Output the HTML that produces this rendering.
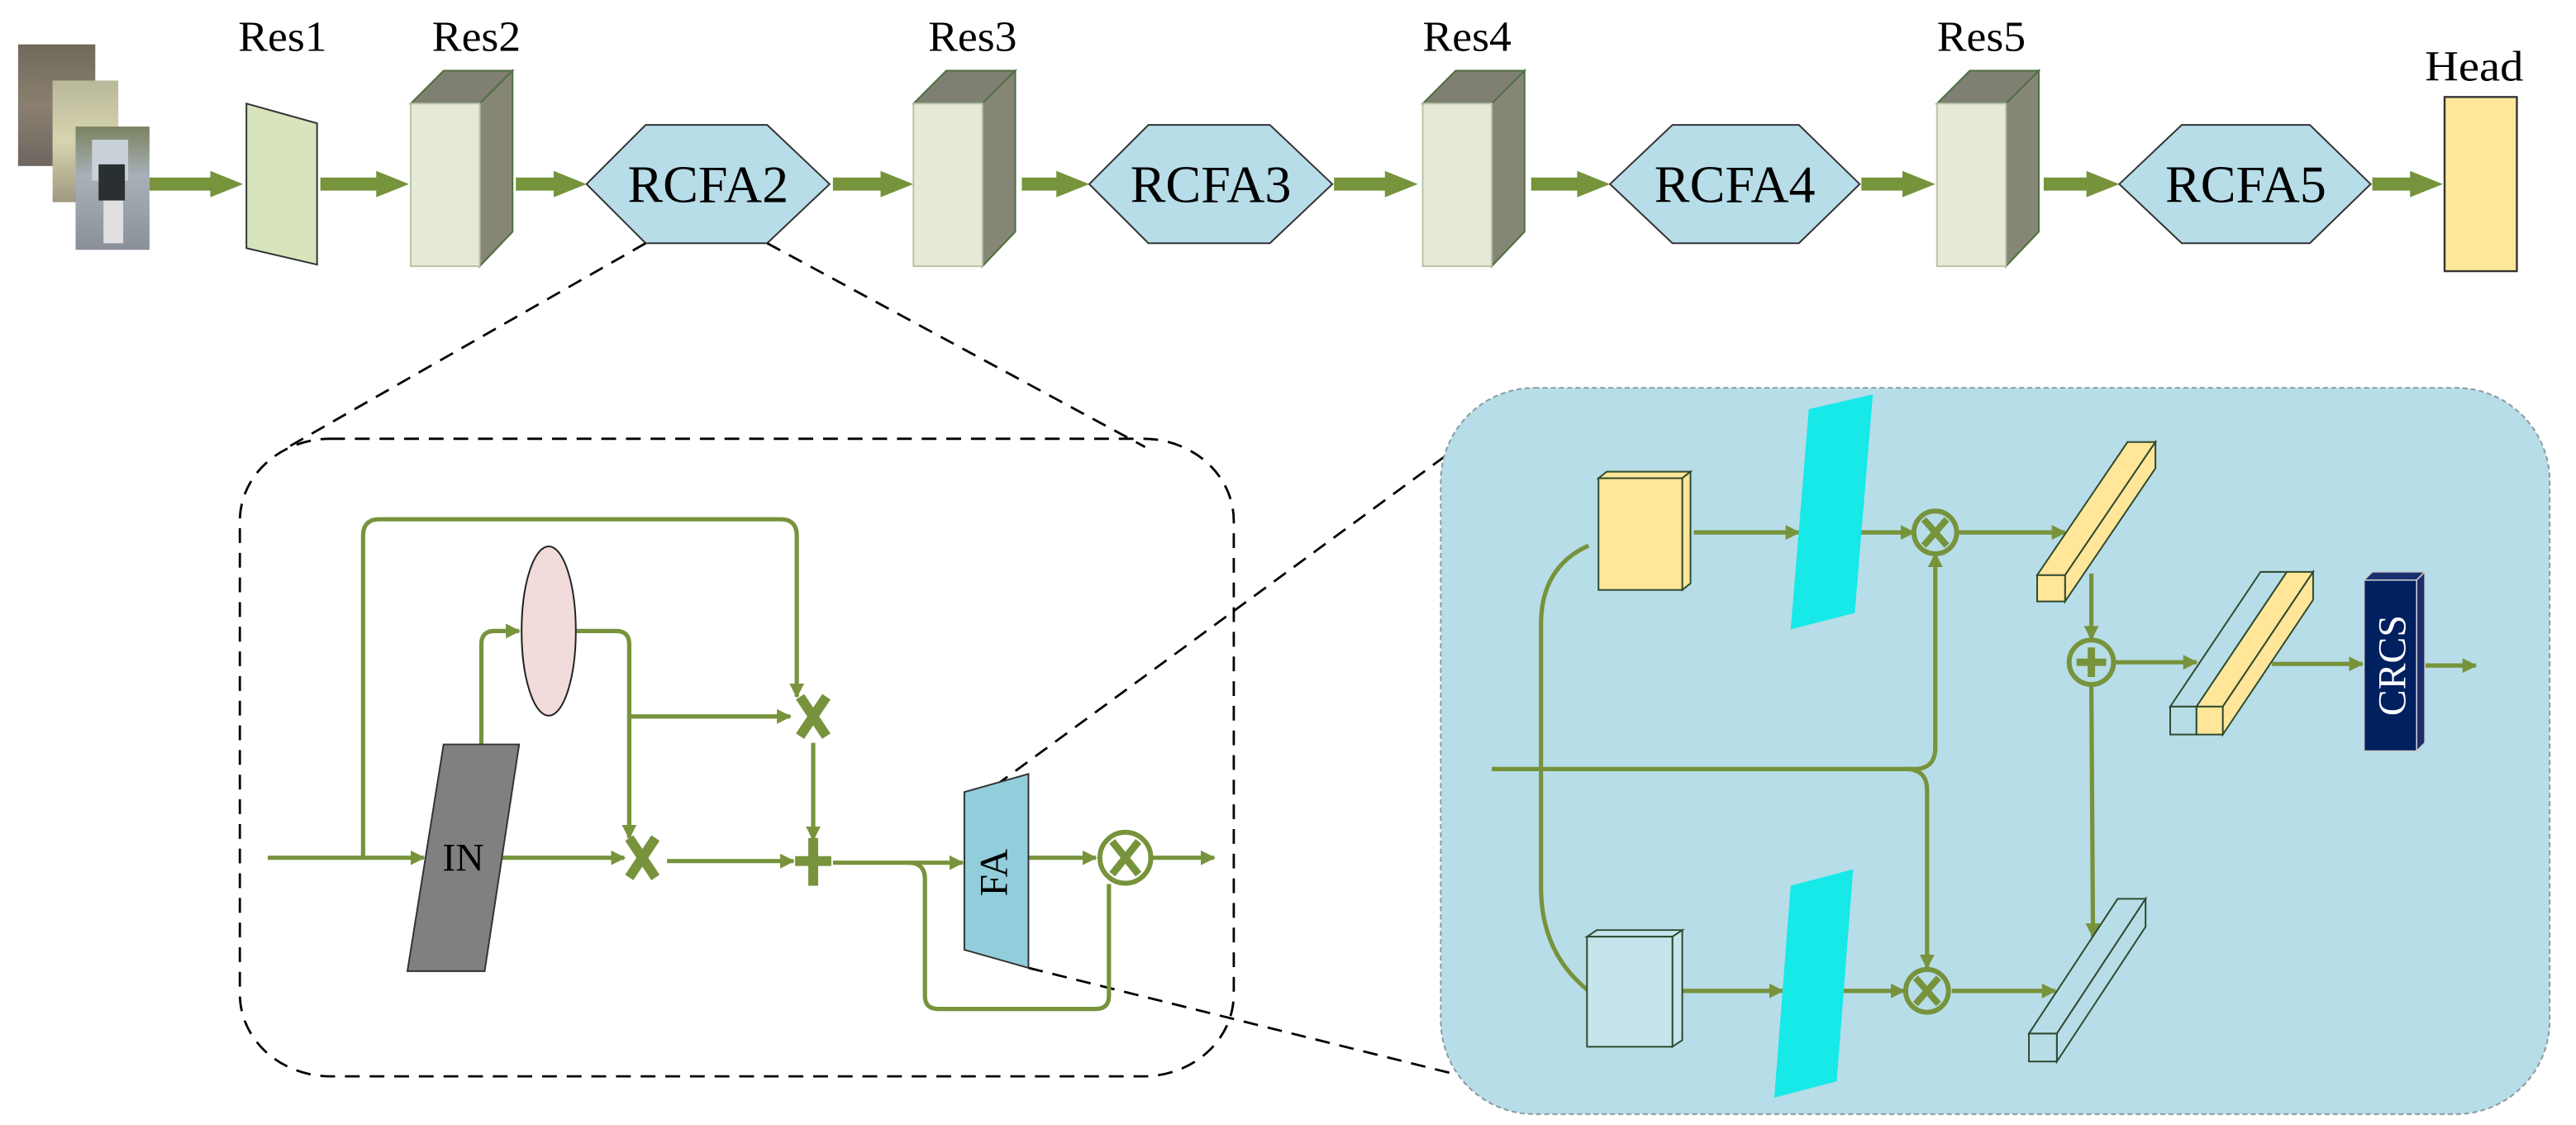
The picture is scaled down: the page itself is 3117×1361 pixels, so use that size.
<!DOCTYPE html>
<html><head><meta charset="utf-8"><style>
html,body{margin:0;padding:0;background:#fff;}
svg{display:block;}
svg text{font-family:"Liberation Serif","DejaVu Serif",serif;}
</style></head><body>
<svg width="3117" height="1361" viewBox="0 0 1568 684.6" xmlns="http://www.w3.org/2000/svg" font-family="Liberation Serif, serif">
<defs>
<marker id="a" viewBox="0 0 10 10" refX="9" refY="5" markerWidth="9" markerHeight="9" markerUnits="userSpaceOnUse" orient="auto"><path d="M0,0L10,5L0,10z" fill="#77933c"/></marker>
<linearGradient id="p1" x1="0" y1="0" x2="0" y2="1"><stop offset="0" stop-color="#6f6a5a"/><stop offset="0.5" stop-color="#8a7f70"/><stop offset="1" stop-color="#6e6660"/></linearGradient>
<linearGradient id="p2" x1="0" y1="0" x2="0" y2="1"><stop offset="0" stop-color="#b8b89a"/><stop offset="0.5" stop-color="#d8d4b0"/><stop offset="1" stop-color="#a09880"/></linearGradient>
<linearGradient id="p3" x1="0" y1="0" x2="0" y2="1"><stop offset="0" stop-color="#7a8260"/><stop offset="0.4" stop-color="#a8b0b8"/><stop offset="1" stop-color="#8a9098"/></linearGradient>
</defs>

<rect x="11" y="27" width="47" height="74" fill="url(#p1)"/>
<rect x="32" y="49" width="40" height="74" fill="url(#p2)"/>
<rect x="46" y="77" width="45" height="75" fill="url(#p3)"/>
<rect x="56" y="85" width="22" height="25" fill="#c8d0d8"/>
<rect x="60" y="100" width="16" height="22" fill="#2a3030"/>
<rect x="63" y="122" width="12" height="26" fill="#e0e0e0"/>

<g font-size="26" fill="#000" text-anchor="middle" font-family="Liberation Serif, serif">
<text x="172" y="31" textLength="54" lengthAdjust="spacingAndGlyphs">Res1</text>
<text x="290" y="31" textLength="54" lengthAdjust="spacingAndGlyphs">Res2</text>
<text x="592" y="31" textLength="54" lengthAdjust="spacingAndGlyphs">Res3</text>
<text x="893" y="31" textLength="54" lengthAdjust="spacingAndGlyphs">Res4</text>
<text x="1206" y="31" textLength="54" lengthAdjust="spacingAndGlyphs">Res5</text>
<text x="1506" y="49" textLength="60" lengthAdjust="spacingAndGlyphs">Head</text>
</g>

<g fill="#77933c">
<path d="M91,108H128V104L148,112L128,120V116H91z"/>
<path d="M195,108H229V104L249,112L229,120V116H195z"/>
<path d="M314,108H337V104L357,112L337,120V116H314z"/>
<path d="M507,108H536V104L556,112L536,120V116H507z"/>
<path d="M622,108H643V104L663,112L643,120V116H622z"/>
<path d="M812,108H843V104L863,112L843,120V116H812z"/>
<path d="M932,108H960V104L980,112L960,120V116H932z"/>
<path d="M1133,108H1158V104L1178,112L1158,120V116H1133z"/>
<path d="M1244,108H1270V104L1290,112L1270,120V116H1244z"/>
<path d="M1444,108H1467V104L1487,112L1467,120V116H1444z"/>
</g>

<polygon points="150,63 193,75 193,161 150,151" fill="#d7e4bd" stroke="#333" stroke-width="1"/>
<g stroke="#4f6f40" stroke-width="1">
<g id="rb">
<polygon points="250,63 270,43 312,43 292,63" fill="#7f7f72"/>
<polygon points="292,63 312,43 312,141 292,162" fill="#868676"/>
<rect x="250" y="63" width="42" height="99" fill="#e6e9d5" stroke="#b8c4a8"/>
</g>
<use href="#rb" x="306"/>
<use href="#rb" x="616"/>
<use href="#rb" x="929"/>
</g>

<g fill="#b7dde8" stroke="#333" stroke-width="1">
<polygon points="357,112 393,76 467,76 505,112 467,148 393,148"/>
<polygon points="663,112 699,76 773,76 811,112 773,148 699,148"/>
<polygon points="980,112 1018,76 1095,76 1132,112 1095,148 1018,148"/>
<polygon points="1290,112 1328,76 1406,76 1443,112 1406,148 1328,148"/>
</g>
<g font-size="32" text-anchor="middle" fill="#000" font-family="Liberation Serif, serif">
<text x="431" y="123" textLength="98" lengthAdjust="spacingAndGlyphs">RCFA2</text>
<text x="737" y="123" textLength="98" lengthAdjust="spacingAndGlyphs">RCFA3</text>
<text x="1056" y="123" textLength="98" lengthAdjust="spacingAndGlyphs">RCFA4</text>
<text x="1367" y="123" textLength="98" lengthAdjust="spacingAndGlyphs">RCFA5</text>
</g>
<rect x="1488" y="59" width="44" height="106" fill="#ffe699" stroke="#333" stroke-width="1.2"/>

<g stroke="#000" stroke-width="1.4" stroke-dasharray="9,6" fill="none">
<line x1="393" y1="148" x2="172" y2="274"/>
<line x1="467" y1="148" x2="697" y2="272"/>
<line x1="606" y1="478" x2="890" y2="270"/>
<line x1="626" y1="589" x2="895" y2="656"/>
<rect x="146" y="267" width="605" height="388" rx="55" ry="50"/>
</g>

<g stroke="#77933c" stroke-width="2.6" fill="none">
<path d="M163,522H258" marker-end="url(#a)"/>
<path d="M221,522V326Q221,316 231,316H475Q485,316 485,326V424" marker-end="url(#a)"/>
<path d="M293,453V392Q293,384 301,384H316" marker-end="url(#a)"/>
<path d="M351,384H375Q383,384 383,392V510" marker-end="url(#a)"/>
<path d="M383,436H481" marker-end="url(#a)"/>
<path d="M305,522H380" marker-end="url(#a)"/>
<path d="M406,524H483" marker-end="url(#a)"/>
<path d="M495,452V511" marker-end="url(#a)"/>
<path d="M507,525H586" marker-end="url(#a)"/>
<path d="M553,525Q563,525 563,535V606Q563,614 571,614H667Q675,614 675,606V538"/>
<path d="M626,522H667" marker-end="url(#a)"/>
<path d="M701,522H739" marker-end="url(#a)"/>
</g>
<ellipse cx="334" cy="384" rx="16.5" ry="51.5" fill="#f2dcdb" stroke="#222" stroke-width="1"/>
<polygon points="270,453 316,453 295,591 248,591" fill="#808080" stroke="#333" stroke-width="1"/>
<text x="282" y="530" font-size="24" text-anchor="middle" font-family="Liberation Serif, serif">IN</text>
<g stroke="#77933c" stroke-width="6" fill="none">
<path d="M487,424L503,448M503,424L487,448"/>
<path d="M383,510L399,534M399,510L383,534"/>
<path d="M495,510V539M484,524H506"/>
</g>
<polygon points="587,482 626,471 626,589 587,578" fill="#92cddc" stroke="#333" stroke-width="1"/>
<text transform="translate(613,531) rotate(-90)" font-size="24" text-anchor="middle" font-family="Liberation Serif, serif">FA</text>
<circle cx="685" cy="522" r="15.5" fill="none" stroke="#77933c" stroke-width="3"/>
<path d="M677,512L693,532M693,512L677,532" stroke="#77933c" stroke-width="4.5"/>

<rect x="877" y="236" width="675" height="442" rx="57" ry="57" fill="#b7dde8" stroke="#8a9aa0" stroke-width="1" stroke-dasharray="3,2"/>
<g stroke="#77933c" stroke-width="2.6" fill="none">
<path d="M1031,324H1095" marker-end="url(#a)"/>
<path d="M1132,324H1165" marker-end="url(#a)"/>
<path d="M1192,324H1257" marker-end="url(#a)"/>
<path d="M908,468H1165Q1178,468 1178,455V337" marker-end="url(#a)"/>
<path d="M1160,468Q1173,468 1173,481V589" marker-end="url(#a)"/>
<path d="M967,332Q938,345 938,380V540Q938,580 967,603"/>
<path d="M1024,603H1085" marker-end="url(#a)"/>
<path d="M1121,603H1159" marker-end="url(#a)"/>
<path d="M1188,603H1251" marker-end="url(#a)"/>
<path d="M1273,349V389" marker-end="url(#a)"/>
<path d="M1273,417L1274,570" marker-end="url(#a)"/>
<path d="M1287,403H1337" marker-end="url(#a)"/>
<path d="M1383,404H1438" marker-end="url(#a)"/>
<path d="M1471,405H1507" marker-end="url(#a)"/>
</g>
<g stroke="#2f4a2f" stroke-width="1">
<polygon points="973,291 978,287 1029,287 1024,291" fill="#ffe699"/>
<polygon points="1024,291 1029,287 1029,355 1024,359" fill="#ffe699"/>
<rect x="973" y="291" width="51" height="68" fill="#ffe699"/>
<polygon points="966,570 972,566 1024,566 1018,570" fill="#c5e4ec"/>
<polygon points="1018,570 1024,566 1024,633 1018,637" fill="#c5e4ec"/>
<rect x="966" y="570" width="52" height="67" fill="#c5e4ec"/>
</g>
<polygon points="1101,249 1140,240 1129,373 1090,383" fill="#17e8e8"/>
<polygon points="1090,539 1128,529 1118,658 1080,668" fill="#17e8e8"/>
<g stroke="#2f4a2f" stroke-width="1">
<polygon points="1240,350 1257,350 1312,269 1295,269" fill="#ffe699"/>
<polygon points="1257,350 1257,366 1312,285 1312,269" fill="#ffe699"/>
<rect x="1240" y="350" width="17" height="16" fill="#ffe699"/>
<polygon points="1235,629 1252,629 1306,547 1289,547" fill="#b7dde8"/>
<polygon points="1252,629 1252,646 1306,564 1306,547" fill="#b7dde8"/>
<rect x="1235" y="629" width="17" height="17" fill="#b7dde8"/>
<polygon points="1321,430 1337,430 1392,348 1376,348" fill="#b7dde8"/>
<polygon points="1337,430 1353,430 1408,348 1392,348" fill="#ffe699"/>
<polygon points="1353,430 1353,447 1408,365 1408,348" fill="#ffe699"/>
<rect x="1321" y="430" width="16" height="17" fill="#b7dde8"/>
<rect x="1337" y="430" width="16" height="17" fill="#ffe699"/>
</g>
<g stroke="#77933c" fill="none">
<circle cx="1178" cy="324" r="13" stroke-width="3"/>
<path d="M1171,316L1185,332M1185,316L1171,332" stroke-width="4"/>
<circle cx="1173" cy="603" r="13" stroke-width="3"/>
<path d="M1166,595L1180,611M1180,595L1166,611" stroke-width="4"/>
<circle cx="1273" cy="403" r="13.5" stroke-width="3"/>
<path d="M1273,394V412M1264,403H1282" stroke-width="4.5"/>
</g>
<polygon points="1439,353 1444,348 1476,348 1471,353" fill="#1a2f70" stroke="#ccc" stroke-width="0.8"/>
<polygon points="1471,353 1476,348 1476,452 1471,457" fill="#1a2f70" stroke="#ccc" stroke-width="0.8"/>
<rect x="1439" y="353" width="32" height="104" fill="#002060" stroke="#ccc" stroke-width="0.8"/>
<text transform="translate(1464,405) rotate(-90)" font-size="24" fill="#fff" text-anchor="middle" font-family="Liberation Serif, serif">CRCS</text>
</svg>
</body></html>
